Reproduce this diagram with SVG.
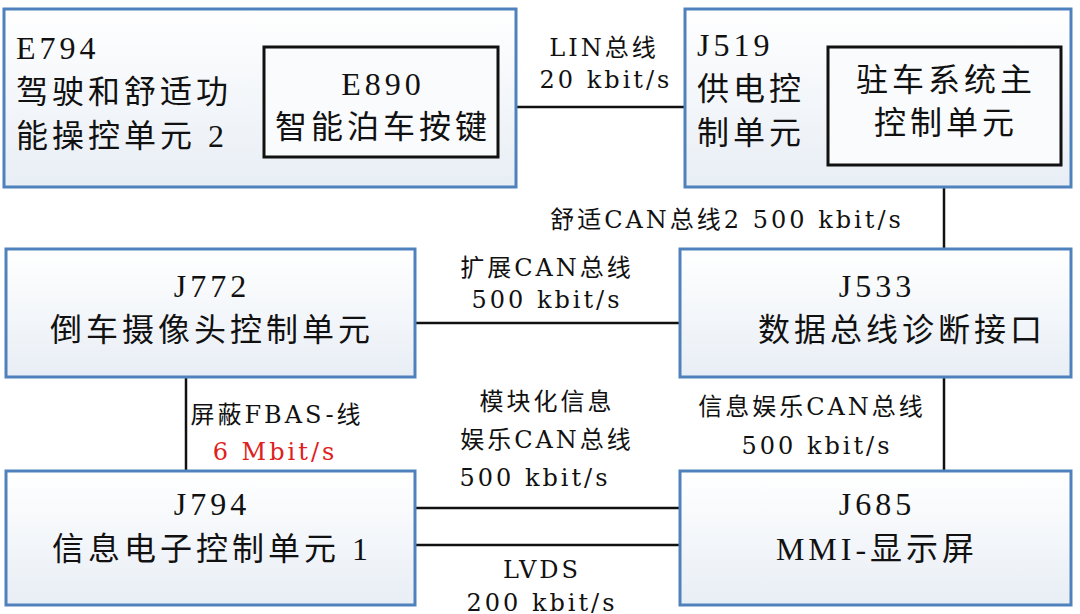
<svg xmlns="http://www.w3.org/2000/svg" width="1080" height="614" viewBox="0 0 1080 614">
<defs>
<linearGradient id="g" x1="0" y1="0" x2="0" y2="1"><stop offset="0" stop-color="#ffffff"/><stop offset="1" stop-color="#e8eef5"/></linearGradient>
<style>
.box{fill:url(#g);stroke:#4f81bd;stroke-width:3}
.inner{fill:#fafbfd;stroke:#111;stroke-width:3}
.t{font-family:"Liberation Serif","Noto Sans CJK SC",serif;font-size:32px;fill:#111;letter-spacing:4px}
.l{font-family:"DejaVu Serif","Noto Sans CJK SC",serif;font-size:24px;fill:#111;letter-spacing:3px}
.c line{stroke:#111;stroke-width:2.5}
</style>
</defs>
<rect width="1080" height="614" fill="#fff"/>
<g class="c">
<line x1="516" y1="107" x2="685" y2="107"/>
<line x1="944" y1="187" x2="944" y2="249"/>
<line x1="415" y1="323" x2="680" y2="323"/>
<line x1="186" y1="377" x2="186" y2="471"/>
<line x1="944" y1="377" x2="944" y2="471"/>
<line x1="415" y1="508" x2="680" y2="508"/>
<line x1="415" y1="545" x2="680" y2="545"/>
</g>
<g id="E794"><rect class="box" x="4" y="9" width="512" height="178"/>
<text class="t" x="16" y="59">E794</text><text class="t" x="16" y="103">驾驶和舒适功</text><text class="t" x="16" y="147">能操控单元 2</text></g>
<g id="E890"><rect class="inner" x="264" y="47" width="234" height="110"/>
<text class="t" x="383" y="95" text-anchor="middle">E890</text><text class="t" x="383" y="138" text-anchor="middle">智能泊车按键</text></g>
<g id="J519"><rect class="box" x="685" y="9" width="386" height="178"/>
<text class="t" x="697" y="56">J519</text><text class="t" x="697" y="100">供电控</text><text class="t" x="697" y="144">制单元</text></g>
<g id="parkmain"><rect class="inner" x="828" y="47" width="233" height="118"/>
<text class="t" x="946" y="91" text-anchor="middle">驻车系统主</text><text class="t" x="946" y="134" text-anchor="middle">控制单元</text></g>
<g id="J772"><rect class="box" x="6" y="249" width="409" height="128"/>
<text class="t" x="212" y="297" text-anchor="middle">J772</text><text class="t" x="212" y="341" text-anchor="middle">倒车摄像头控制单元</text></g>
<g id="J533"><rect class="box" x="680" y="249" width="391" height="128"/>
<text class="t" x="877" y="297" text-anchor="middle">J533</text><text class="t" x="902" y="341" text-anchor="middle">数据总线诊断接口</text></g>
<g id="J794"><rect class="box" x="6" y="471" width="409" height="134"/>
<text class="t" x="212" y="515" text-anchor="middle">J794</text><text class="t" x="212" y="560" text-anchor="middle">信息电子控制单元 1</text></g>
<g id="J685"><rect class="box" x="680" y="471" width="391" height="134"/>
<text class="t" x="877" y="515" text-anchor="middle">J685</text><text class="t" x="877" y="560" text-anchor="middle">MMI-显示屏</text></g>
<g id="labels">
<text class="l" x="604" y="56" text-anchor="middle">LIN总线</text>
<text class="l" x="606" y="88" text-anchor="middle">20 kbit/s</text>
<text class="l" x="727" y="228" text-anchor="middle">舒适CAN总线2  500 kbit/s</text>
<text class="l" x="547" y="276" text-anchor="middle">扩展CAN总线</text>
<text class="l" x="547" y="308" text-anchor="middle">500 kbit/s</text>
<text class="l" x="277" y="423" text-anchor="middle">屏蔽FBAS-线</text>
<text class="l" x="275" y="460" text-anchor="middle" style="fill:#e02020">6 Mbit/s</text>
<text class="l" x="547" y="410" text-anchor="middle">模块化信息</text>
<text class="l" x="547" y="448" text-anchor="middle">娱乐CAN总线</text>
<text class="l" x="535" y="486" text-anchor="middle">500 kbit/s</text>
<text class="l" x="812" y="415" text-anchor="middle">信息娱乐CAN总线</text>
<text class="l" x="817" y="454" text-anchor="middle">500 kbit/s</text>
<text class="l" x="542" y="578" text-anchor="middle">LVDS</text>
<text class="l" x="542" y="611" text-anchor="middle">200 kbit/s</text>
</g>
</svg>
